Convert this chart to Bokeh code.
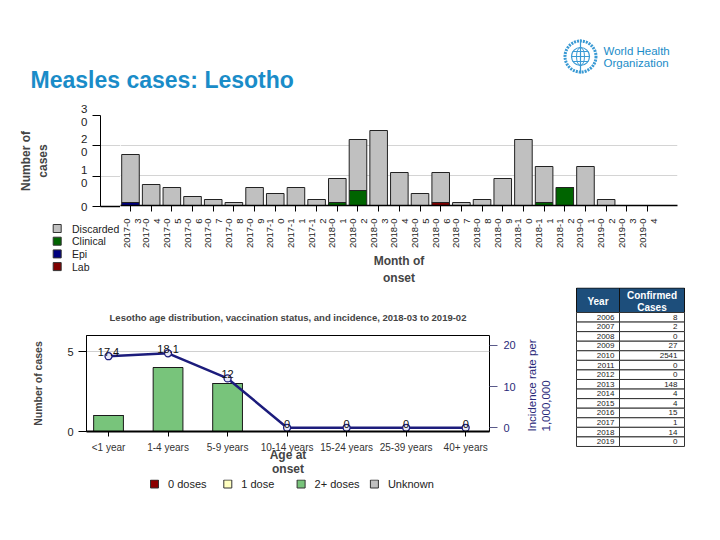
import math
from bokeh.plotting import figure
from bokeh.models import (Range1d, LinearAxis, FixedTicker, ColumnDataSource)
from bokeh.layouts import column, row
from bokeh.core.properties import value
from bokeh.embed import file_html
from bokeh.resources import INLINE

FONT = "Liberation Sans"
BLUE = "#1a8cc8"
NAVY_LINE = "#1c1c7c"

# ---------------- data ----------------
months = ["2017-03", "2017-04", "2017-05", "2017-06", "2017-07", "2017-08",
          "2017-09", "2017-10", "2017-11", "2017-12", "2018-01", "2018-02",
          "2018-03", "2018-04", "2018-05", "2018-06", "2018-07", "2018-08",
          "2018-09", "2018-10", "2018-11", "2018-12", "2019-01", "2019-02",
          "2019-03", "2019-04"]
discarded = [16, 7, 6, 3, 2, 1, 6, 4, 6, 2, 8, 17, 25, 11, 4, 10, 1, 2, 9, 22, 12, 0, 13, 2, 0, 0]
clinical = [0, 0, 0, 0, 0, 0, 0, 0, 0, 0, 1, 5, 0, 0, 0, 0, 0, 0, 0, 0, 1, 6, 0, 0, 0, 0]
epi = [1, 0, 0, 0, 0, 0, 0, 0, 0, 0, 0, 0, 0, 0, 0, 0, 0, 0, 0, 0, 0, 0, 0, 0, 0, 0]
lab = [0, 0, 0, 0, 0, 0, 0, 0, 0, 0, 0, 0, 0, 0, 0, 1, 0, 0, 0, 0, 0, 0, 0, 0, 0, 0]
status_labels = ["Discarded", "Clinical", "Epi", "Lab"]
status_colors = ["#c0c0c0", "#006400", "#00007f", "#7f0000"]
top_y_ticks = [0, 10, 20, 30]
top_y_labels = ["0", "1\n0", "2\n0", "3\n0"]

age_groups = ["<1 year", "1-4 years", "5-9 years", "10-14 years",
              "15-24 years", "25-39 years", "40+ years"]
zero_doses = [0, 0, 0, 0, 0, 0, 0]
one_dose = [0, 0, 0, 0, 0, 0, 0]
two_plus_doses = [1, 4, 3, 0, 0, 0, 0]
unknown_doses = [0, 0, 0, 0, 0, 0, 0]
dose_labels = ["0 doses", "1 dose", "2+ doses", "Unknown"]
dose_colors = ["#8b0000", "#ffffc0", "#78c47b", "#c0c0c0"]
incidence = [17.4, 18.1, 12, 0, 0, 0, 0]
incidence_labels = ["17.4", "18.1", "12", "0", "0", "0", "0"]

table_years = ["2006", "2007", "2008", "2009", "2010", "2011", "2012",
               "2013", "2014", "2015", "2016", "2017", "2018", "2019"]
table_cases = ["8", "2", "0", "27", "2541", "0", "0", "148", "4", "4",
               "15", "1", "14", "0"]


def fig(**kw):
    return figure(output_backend="svg", toolbar_location=None, frame_align=False, **kw)


def blank(f):
    f.grid.visible = False
    f.outline_line_color = None


W = 700

# ---------------- header ----------------
hdr = fig(width=W, height=95, x_range=Range1d(0, W), y_range=Range1d(95, 0),
          x_axis_location=None, y_axis_location=None, min_border=0)
blank(hdr)
hdr.text(x=[30], y=[79.5], text=["Measles cases: Lesotho"], text_font=value(FONT),
         text_font_style="bold", text_font_size="23px", text_color=BLUE,
         text_baseline="alphabetic")
LOGO = "#3a9ad4"
hdr.circle(x=[580], y=[56], radius=15.5, fill_color=None, line_color=LOGO,
           line_width=3, line_dash="2 1")
hdr.circle(x=[580], y=[56], radius=9, fill_color=None, line_color=LOGO, line_width=1.2)
hdr.ellipse(x=[580], y=[56], width=8, height=18, fill_color=None, line_color=LOGO, line_width=1)
hdr.segment(x0=[571, 572, 572, 580], y0=[56, 51, 61, 39], x1=[589, 588, 588, 580],
            y1=[56, 51, 61, 73], line_color=LOGO, line_width=1.2)
hdr.text(x=[603, 603], y=[50, 62.5], text=["World Health", "Organization"],
         text_font=value(FONT), text_font_size="11.5px", text_color=BLUE,
         text_baseline="middle")

# ---------------- monthly chart (split in two figures) ----------------
xi = list(range(len(months)))
src = ColumnDataSource(dict(x=xi, lab=lab, epi=epi, clinical=clinical, discarded=discarded))
X0, X1 = -1.45, len(months) - 1 + 1.45
FRAME_W = 577
PX = FRAME_W / (X1 - X0)
LEFT = 100
SPLIT_PX = 20
XS = X0 + SPLIT_PX / PX
Y_RANGE = Range1d(0, 30)
TOP_B, FRAME_H, BOT_B = 20, 91, 81

# left part: y axis + start of frame
tl = fig(width=LEFT + SPLIT_PX, height=TOP_B + FRAME_H + 6, x_range=Range1d(X0, XS),
         y_range=Y_RANGE, min_border_left=LEFT, min_border_right=0,
         min_border_top=TOP_B, min_border_bottom=6)
tl.outline_line_color = None
tl.xgrid.visible = False
tl.ygrid.grid_line_color = "#d4d4d4"
tl.ygrid.ticker = FixedTicker(ticks=top_y_ticks)
tl.yaxis.ticker = FixedTicker(ticks=top_y_ticks)
tl.yaxis.major_label_overrides = dict(zip(top_y_ticks, top_y_labels))
tl.yaxis.major_label_text_font = FONT
tl.yaxis.major_label_text_font_size = "11.5px"
tl.yaxis.major_label_text_color = "#222222"
tl.yaxis.major_label_text_line_height = 1.1
tl.yaxis.major_tick_out = 8
tl.yaxis.major_tick_in = 0
tl.yaxis.minor_tick_line_color = None
tl.yaxis.axis_label = "Number of\ncases"
tl.yaxis.axis_label_text_font = FONT
tl.yaxis.axis_label_text_font_style = "bold"
tl.yaxis.axis_label_text_font_size = "12px"
tl.yaxis.axis_label_standoff = 28
tl.xaxis.ticker = FixedTicker(ticks=[])
tl.xaxis.major_tick_out = 0
tl.xaxis.major_tick_in = 0
tl.xaxis.minor_tick_line_color = None
tl.xaxis.axis_line_width = 1.5

# legend (below the y axis)
LEG_H = BOT_B - 6
tleg = fig(width=LEFT + SPLIT_PX, height=LEG_H, x_range=Range1d(0, LEFT + SPLIT_PX),
           y_range=Range1d(LEG_H, 0), x_axis_location=None, y_axis_location=None, min_border=0)
blank(tleg)
ly = [16 + 12.7 * i for i in range(len(status_labels))]
tleg.rect(x=[56.7] * len(status_labels), y=ly, width=8, height=8, fill_color=status_colors,
          line_color="#333333", line_width=1)
tleg.text(x=[71.5] * len(status_labels), y=ly, text=status_labels, text_baseline="middle",
          text_font=value(FONT), text_font_size="10.5px", text_color="#222222")

# main part
top = fig(width=W - LEFT - SPLIT_PX, height=TOP_B + FRAME_H + BOT_B, x_range=Range1d(XS, X1),
          y_range=Y_RANGE, y_axis_location=None,
          min_border_left=0, min_border_right=W - LEFT - FRAME_W, min_border_top=TOP_B,
          min_border_bottom=BOT_B)
top.outline_line_color = None
top.vbar_stack(["lab", "epi", "clinical", "discarded"], x="x", width=0.85, source=src,
               fill_color=["#7f0000", "#00007f", "#006400", "#c0c0c0"],
               line_color="#222222", line_width=1)
top.xgrid.visible = False
top.ygrid.grid_line_color = "#d4d4d4"
top.ygrid.ticker = FixedTicker(ticks=top_y_ticks)
top.xaxis.ticker = FixedTicker(ticks=xi)
top.xaxis.major_label_overrides = {i: m[:6] + "\n" + m[6:] for i, m in zip(xi, months)}
top.xaxis.major_label_orientation = math.pi / 2
top.xaxis.major_label_text_font = FONT
top.xaxis.major_label_text_font_size = "9.5px"
top.xaxis.major_label_text_color = "#222222"
top.xaxis.major_label_text_line_height = 1.0
top.xaxis.major_label_standoff = 7
top.xaxis.major_tick_out = 6
top.xaxis.major_tick_in = 0
top.xaxis.minor_tick_line_color = None
top.xaxis.axis_line_width = 1.5
top.xaxis.axis_label = "Month of\nonset"
top.xaxis.axis_label_text_font = FONT
top.xaxis.axis_label_text_font_style = "bold"
top.xaxis.axis_label_text_font_size = "12px"
top.xaxis.axis_label_standoff = 3

# ---------------- age chart ----------------
ai = list(range(len(age_groups)))
src2 = ColumnDataSource(dict(x=ai, zero=zero_doses, one=one_dose, two=two_plus_doses,
                             unk=unknown_doses, inc=incidence, lbl=incidence_labels))
BW = 568
bot = fig(width=BW, height=48 + 96 + 48, x_range=Range1d(-0.37, len(age_groups) - 1 + 0.4),
          y_range=Range1d(0, 6),
          min_border_left=86, min_border_right=76, min_border_top=48, min_border_bottom=48)
bot.extra_y_ranges = {"inc": Range1d(-0.9, 22.43)}
bot.outline_line_color = "black"
bot.title.text = "Lesotho age distribution, vaccination status, and incidence, 2018-03 to 2019-02"
bot.title.align = "center"
bot.title.text_font = FONT
bot.title.text_font_size = "9.5px"
bot.title.text_font_style = "bold"
bot.title.standoff = 25
bot.vbar_stack(["zero", "one", "two", "unk"], x="x", width=0.5, source=src2,
               fill_color=dose_colors, line_color="#1a1a1a", line_width=1)
bot.line("x", "inc", source=src2, y_range_name="inc", line_color=NAVY_LINE, line_width=2.5)
bot.scatter("x", "inc", source=src2, y_range_name="inc", marker="circle", size=7,
            fill_color="#e8e8f6", line_color=NAVY_LINE, line_width=1.3)
bot.text("x", "inc", text="lbl", source=src2, y_range_name="inc", text_align="center",
         text_baseline="bottom", y_offset=0, text_font=value(FONT), text_font_size="11px",
         text_color="#111111")
bot.xgrid.visible = False
bot.ygrid.grid_line_color = "#d0d0d0"
bot.yaxis.ticker = FixedTicker(ticks=[0, 5])
bot.yaxis.major_label_text_font = FONT
bot.yaxis.major_label_text_font_size = "11px"
bot.yaxis.major_label_text_color = "#222222"
bot.yaxis.major_tick_out = 8
bot.yaxis.major_tick_in = 0
bot.yaxis.minor_tick_line_color = None
bot.yaxis.axis_label = "Number of cases"
bot.yaxis.axis_label_text_font = FONT
bot.yaxis.axis_label_text_font_style = "bold"
bot.yaxis.axis_label_text_font_size = "10.5px"
bot.yaxis.axis_label_standoff = 20
bot.xaxis.ticker = FixedTicker(ticks=ai)
bot.xaxis.major_label_overrides = dict(zip(ai, age_groups))
bot.xaxis.major_label_text_font = FONT
bot.xaxis.major_label_text_font_size = "10px"
bot.xaxis.major_label_text_color = "#333333"
bot.xaxis.major_tick_out = 5
bot.xaxis.major_tick_in = 0
bot.xaxis.minor_tick_line_color = None
bot.xaxis.axis_line_width = 2
bot.xaxis.axis_label = "Age at\nonset"
bot.xaxis.axis_label_text_font = FONT
bot.xaxis.axis_label_text_font_style = "bold"
bot.xaxis.axis_label_text_font_size = "12px"
bot.xaxis.axis_label_text_line_height = 1.0
bot.xaxis.axis_label_standoff = -8
rax = LinearAxis(y_range_name="inc", ticker=FixedTicker(ticks=[0, 10, 20]),
                 axis_label="Incidence rate per\n1,000,000",
                 axis_line_color=None, major_tick_line_color="#5a5a8a",
                 major_tick_out=8, major_tick_in=0, minor_tick_line_color=None,
                 major_label_text_color="#2a2a7a", major_label_text_font=FONT,
                 major_label_text_font_size="11px", major_label_standoff=6,
                 axis_label_text_color="#2a2a7a", axis_label_text_font=FONT,
                 axis_label_text_font_style="normal", axis_label_text_font_size="11.5px",
                 axis_label_standoff=20, axis_label_orientation=math.pi / 2,
                 axis_label_align="start")
bot.add_layout(rax, "right")

# legend below the age chart
BL_H = 21
bleg = fig(width=BW, height=BL_H, x_range=Range1d(0, BW), y_range=Range1d(BL_H, 0),
           x_axis_location=None, y_axis_location=None, min_border=0)
blank(bleg)
lx = [154 + 73.3 * i for i in range(len(dose_labels))]
bleg.rect(x=lx, y=[4.5] * len(dose_labels), width=8, height=8, fill_color=dose_colors,
          line_color="#333333", line_width=1)
bleg.text(x=[v + 13.5 for v in lx], y=[4.5] * len(dose_labels), text=dose_labels,
          text_baseline="middle", text_font=value(FONT), text_font_size="11px",
          text_color="#222222")

# ---------------- table ----------------
TW = W - BW
TH = 48 + 96 + 48 + BL_H
tbl = fig(width=TW, height=TH, x_range=Range1d(0, TW), y_range=Range1d(TH, 0),
          x_axis_location=None, y_axis_location=None, min_border=0)
blank(tbl)
TX0, TX1, TX2 = 8, 51, 116
HY0, HY1 = 0.5, 25
ROW_H = 9.57
n = len(table_years)
tbl.quad(left=[TX0, TX1], right=[TX1, TX2], top=[HY0, HY0], bottom=[HY1, HY1],
         fill_color="#1d4e7b", line_color="#111111", line_width=1)
tops = [HY1 + i * ROW_H for i in range(n)]
bots = [t + ROW_H for t in tops]
tbl.quad(left=[TX0] * n + [TX1] * n, right=[TX1] * n + [TX2] * n, top=tops + tops,
         bottom=bots + bots, fill_color="white", line_color="#333333", line_width=1)
mids = [t + ROW_H / 2 for t in tops]
tbl.text(x=[TX1 - 5] * n, y=mids, text=table_years, text_align="right",
         text_baseline="middle", text_font=value(FONT), text_font_size="8px", text_color="#222222")
tbl.text(x=[TX2 - 7] * n, y=mids, text=table_cases, text_align="right",
         text_baseline="middle", text_font=value(FONT), text_font_size="8px", text_color="#222222")
tbl.text(x=[(TX0 + TX1) / 2, (TX1 + TX2) / 2, (TX1 + TX2) / 2], y=[13.5, 7.5, 19.5],
         text=["Year", "Confirmed", "Cases"], text_align="center", text_baseline="middle",
         text_font=value(FONT), text_font_size="10px", text_font_style="bold", text_color="white")

layout = column(hdr,
                row(column(tl, tleg), top),
                row(column(bot, bleg), tbl))
open("out.html", "w").write(file_html(layout, INLINE))
